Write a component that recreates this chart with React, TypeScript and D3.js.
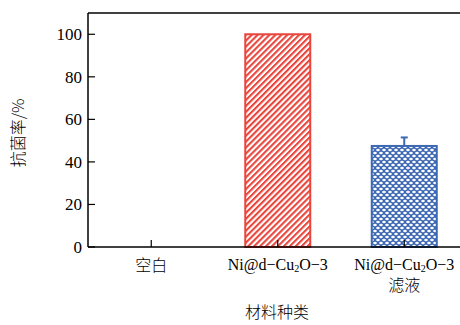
import React from "react";
import * as d3 from "d3";

const categories = ["空白", "Ni@d-Cu2O-3", "Ni@d-Cu2O-3 滤液"];
const values = [0, 100, 47.5];
const errors = [0, 0, 4];
const yTicks = [0, 20, 40, 60, 80, 100];

const W = 460, H = 325;
const M = { left: 88, top: 13, bottom: 247 };

const serif = '"Liberation Serif", "DejaVu Serif", serif';
const cjk = '"Noto Sans CJK SC", sans-serif';

export default function App() {
  const x = d3.scaleBand<string>().domain(categories).range([M.left, M.left + 3 * 126.5]).paddingInner(0).paddingOuter(0);
  const y = d3.scaleLinear().domain([0, 110]).range([M.bottom, M.top]);
  const bw = 65;
  const colors = ["#000", "#e8453c", "#3d68b3"];
  const fills = ["none", "url(#hatch)", "url(#dots)"];

  const label = (c: string, i: number) => {
    const cx = x(c)! + x.bandwidth() / 2;
    if (i === 0) {
      return <text key={i} x={cx} y={271} textAnchor="middle" fontSize={16} style={{ fontFamily: cjk }} fontWeight={300}>{c}</text>;
    }
    return (
      <g key={i}>
        <text x={cx} y={270} textAnchor="middle" fontSize={16} style={{ fontFamily: serif }}>
          Ni@d−Cu<tspan fontSize={10} dy={2}>2</tspan><tspan dy={-2}>O−3</tspan>
        </text>
        {i === 2 && <text x={cx} y={291} textAnchor="middle" fontSize={16} style={{ fontFamily: cjk }} fontWeight={300}>滤液</text>}
      </g>
    );
  };

  return (
    <svg width={W} height={H} style={{ position: "absolute", left: 0, top: 0, background: "#fff" }}>
      <defs>
        <pattern id="hatch" patternUnits="userSpaceOnUse" width={4.2} height={4.2} patternTransform="rotate(-45)">
          <rect width={4.2} height={4.2} fill="#fff" />
          <rect width={4.2} height={2.1} fill="#e8453c" />
        </pattern>
        <pattern id="dots" patternUnits="userSpaceOnUse" width={6} height={6}>
          <rect width={6} height={6} fill="#3d68b3" />
          <ellipse cx={3} cy={3} rx={1.8} ry={1.3} fill="#fff" />
          <ellipse cx={0} cy={0} rx={1.8} ry={1.3} fill="#fff" />
          <ellipse cx={6} cy={0} rx={1.8} ry={1.3} fill="#fff" />
          <ellipse cx={0} cy={6} rx={1.8} ry={1.3} fill="#fff" />
          <ellipse cx={6} cy={6} rx={1.8} ry={1.3} fill="#fff" />
        </pattern>
      </defs>
      {categories.map((c, i) => {
        if (values[i] <= 0) return null;
        const cx = x(c)! + x.bandwidth() / 2;
        return (
          <g key={c}>
            <rect x={cx - bw / 2} y={y(values[i])} width={bw} height={y(0) - y(values[i])}
              fill={fills[i]} stroke={colors[i]} strokeWidth={2} />
            {errors[i] > 0 && (
              <g stroke={colors[i]} strokeWidth={2}>
                <line x1={cx} x2={cx} y1={y(values[i] + errors[i])} y2={y(values[i])} />
                <line x1={cx - 3.5} x2={cx + 3.5} y1={y(values[i] + errors[i])} y2={y(values[i] + errors[i])} />
              </g>
            )}
          </g>
        );
      })}
      <line x1={M.left} x2={W} y1={M.top} y2={M.top} stroke="#000" strokeWidth={1.5} />
      <line x1={M.left} x2={M.left} y1={M.top} y2={M.bottom} stroke="#000" strokeWidth={1.5} />
      <line x1={M.left} x2={W} y1={M.bottom} y2={M.bottom} stroke="#000" strokeWidth={1.5} />
      {yTicks.map(t => (
        <g key={t}>
          <line x1={M.left} x2={M.left + 7} y1={y(t)} y2={y(t)} stroke="#000" strokeWidth={1.2} />
          <text x={82} y={y(t)} dy="0.35em" textAnchor="end" fontSize={17} style={{ fontFamily: serif }}>{t}</text>
        </g>
      ))}
      {categories.map((c) => {
        const cx = x(c)! + x.bandwidth() / 2;
        return <line key={c} x1={cx} x2={cx} y1={M.bottom} y2={M.bottom - 7} stroke="#000" strokeWidth={1.2} />;
      })}
      {categories.map(label)}
      <text x={277} y={318} textAnchor="middle" fontSize={16} style={{ fontFamily: cjk }} fontWeight={300}>材料种类</text>
      <text transform={`translate(24,133) rotate(-90)`} textAnchor="middle" fontSize={16} style={{ fontFamily: cjk }} fontWeight={300}>抗菌率/%</text>
    </svg>
  );
}
